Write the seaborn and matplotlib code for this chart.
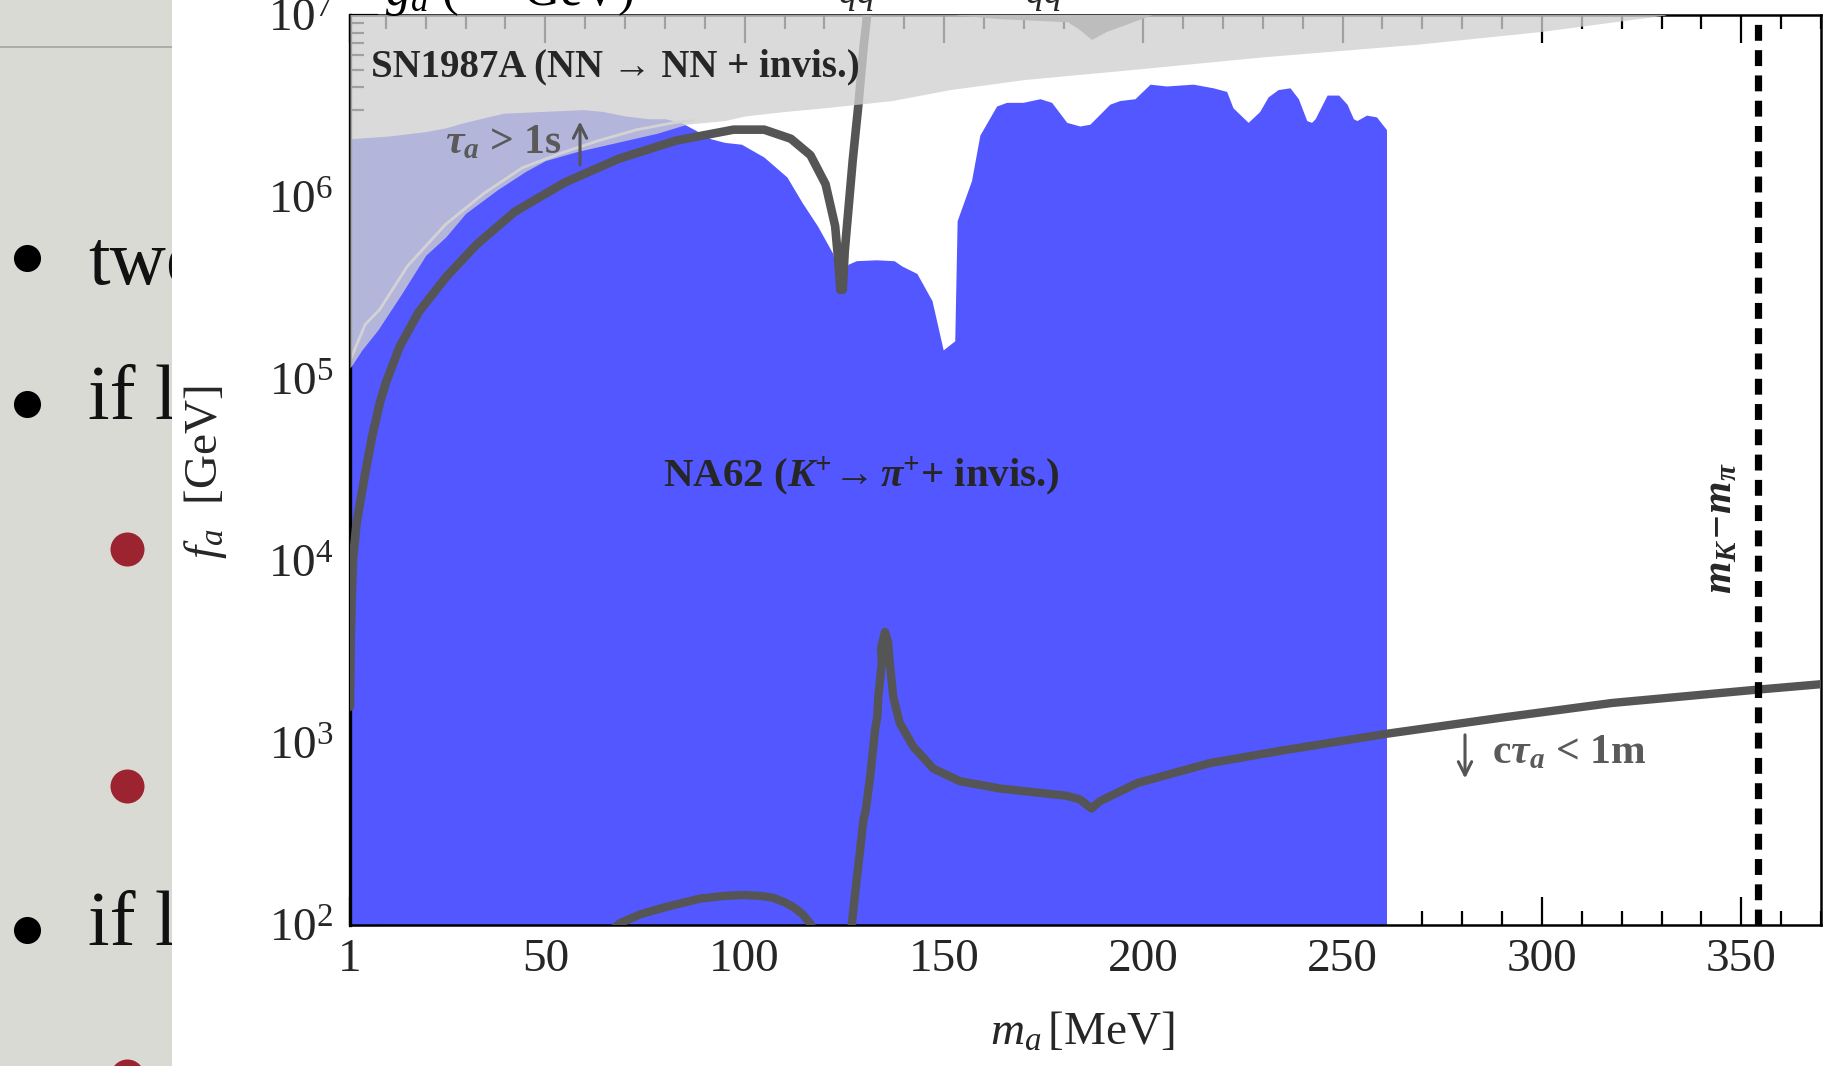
import matplotlib
matplotlib.use("Agg")
import matplotlib.pyplot as plt
import numpy as np
import seaborn as sns
from matplotlib.ticker import FixedLocator, LogLocator, NullFormatter

# ---------------------------------------------------------------- data
# NA62 (K+ -> pi+ + invisible) excluded region: upper edge, log10(f_a / GeV)
na62_ma = [1, 10.6, 20.2, 25, 29.8, 39.4, 49, 59.5, 64.4, 70.1, 76, 80, 84, 87.4,
           91.5, 95, 99.2, 104.8, 110.6, 114.4, 118.3, 122.1, 123.3, 124.3, 125.3,
           125.9, 128, 133, 137.5, 139.5, 143.2, 147, 149.8, 152.7, 153.3, 156.9,
           159, 163.2, 165.7, 169.8, 174.1, 177, 180.8, 184.1, 186.6, 191.6, 194.1,
           197.9, 201.7, 205.8, 212.5, 217.5, 220.9, 222.5, 226.3, 229.2, 231.3,
           233.8, 236.8, 238.9, 241, 242.2, 243.1, 246.1, 249, 251.1, 252.7, 253.6,
           256, 258.5, 261]
na62_logfa = [6.32, 6.335, 6.36, 6.38, 6.41, 6.46, 6.47, 6.48, 6.47, 6.445, 6.43,
              6.43, 6.41, 6.37, 6.32, 6.30, 6.29, 6.22, 6.11, 5.97, 5.84, 5.69, 5.56,
              5.50, 5.56, 5.63, 5.65, 5.655, 5.65, 5.62, 5.58, 5.43, 5.16, 5.21, 5.87,
              6.09, 6.34, 6.50, 6.52, 6.52, 6.54, 6.52, 6.41, 6.39, 6.40, 6.51, 6.53,
              6.54, 6.62, 6.61, 6.62, 6.60, 6.58, 6.49, 6.41, 6.47, 6.55, 6.59, 6.60,
              6.54, 6.42, 6.41, 6.43, 6.56, 6.56, 6.51, 6.43, 6.42, 6.45, 6.44, 6.37]

# SN1987A (NN -> NN + invisible) excluded region: lower edge
sn_ma = [1, 4, 8, 14, 20, 25, 30, 38, 45, 50, 58, 68, 78, 85.5, 95, 100, 110, 120,
         137, 151.5, 170, 197, 230, 269, 300, 331]
sn_logfa = [5.06, 5.16, 5.27, 5.47, 5.68, 5.78, 5.91, 6.04, 6.14, 6.20, 6.25, 6.30,
            6.35, 6.40, 6.42, 6.445, 6.47, 6.49, 6.53, 6.59, 6.645, 6.70, 6.77, 6.84,
            6.91, 7.0]

# thin inner edge of the SN1987A band
sn_edge_ma = [1, 4.8, 8.4, 15.4, 25, 34.6, 44.2, 53.8, 63.4, 73, 82.6, 87]
sn_edge_logfa = [5.10, 5.30, 5.38, 5.62, 5.85, 6.02, 6.16, 6.24, 6.31, 6.37, 6.41, 6.42]

# darker SN1987A notch near the top
notch_ma = [153, 164, 181, 184, 187, 190.8, 197.4, 202]
notch_logfa = [7.0, 6.98, 6.963, 6.92, 6.866, 6.91, 6.963, 7.0]

# tau_a = 1 s contour
tau_ma = [1.0, 1.2, 1.5, 1.8, 2.6, 3.6, 4.8, 6.5, 8.5, 10.0, 13.5, 18.3, 25.1, 32.8,
          42.4, 54.9, 68.4, 82.8, 97.2, 104.9, 111.6, 116.5, 120.3, 122.7, 123.6,
          124.0, 124.6, 125.1, 127.1, 128.5, 129.9, 131.0]
tau_logfa = [3.2, 3.6, 3.85, 4.02, 4.2, 4.33, 4.48, 4.68, 4.87, 4.98, 5.18, 5.37,
             5.56, 5.74, 5.92, 6.08, 6.21, 6.31, 6.37, 6.37, 6.32, 6.23, 6.07, 5.84,
             5.62, 5.49, 5.49, 5.70, 6.20, 6.50, 6.84, 7.05]

# c tau_a = 1 m contour (two branches)
ctau_lo_ma = [65.5, 68.7, 74, 80.4, 88.8, 95, 99.6, 104, 107.1, 110, 112.1, 114.5,
              116.4, 117.5]
ctau_lo_logfa = [1.95, 2.01, 2.06, 2.10, 2.145, 2.16, 2.165, 2.16, 2.15, 2.125, 2.10,
                 2.06, 2.01, 1.96]
ctau_hi_ma = [126.5, 126.8, 128.1, 129.0, 129.8, 130.3, 131.4, 132.7, 133.3, 133.5,
              134.4, 134.2, 135.2, 136.0, 136.4, 137.3, 138.9, 142.3, 147.3, 154, 164,
              172.4, 180.8, 184.1, 187.0, 189.1, 198.5, 216.8, 235.2, 260.8, 290.1,
              317.6, 352.4, 371]
ctau_hi_logfa = [1.9, 1.99, 2.25, 2.42, 2.58, 2.62, 2.80, 3.07, 3.15, 3.25, 3.44, 3.52,
                 3.61, 3.55, 3.44, 3.25, 3.11, 2.98, 2.86, 2.79, 2.75, 2.73, 2.71, 2.69,
                 2.64, 2.68, 2.78, 2.89, 2.96, 3.05, 3.14, 3.22, 3.29, 3.325]

m_kaon_minus_m_pion = 354.1
x_major_ticks = [1, 50, 100, 150, 200, 250, 300, 350]

# ---------------------------------------------------------------- style
sns.set_theme(style="white")
plt.rcParams["font.family"] = ["Liberation Serif", "DejaVu Serif"]
plt.rcParams["mathtext.fontset"] = "custom"
plt.rcParams["mathtext.rm"] = "Liberation Serif"
plt.rcParams["mathtext.it"] = "Liberation Serif:italic"
plt.rcParams["mathtext.bf"] = "Liberation Serif:italic:bold"

W, H = 1845, 1066
fig = plt.figure(figsize=(W / 100, H / 100), dpi=100, facecolor="white")

# ---------------------------------------------------------------- slide strip on the left
pan = fig.add_axes([0, 0, 172 / W, 1])
pan.set_xlim(0, 172)
pan.set_ylim(H, 0)
pan.set_facecolor("#d9dad4")
pan.set_xticks([])
pan.set_yticks([])
for s in pan.spines.values():
    s.set_visible(False)
pan.plot([0, 172], [47, 47], color="#a5a6a2", lw=1.2)
for y, txt in [(284, "two"), (419, "if l"), (945, "if l")]:
    pan.text(88, y, txt, fontsize=56, va="baseline", ha="left", color="#111111",
             clip_on=True)
pan.scatter([27, 27, 27], [258, 404, 930], s=380, color="black", lw=0)
pan.scatter([127, 127, 127], [549, 786, 1076], s=600, color="#9c2430", lw=0,
            clip_on=True)

# cut-off heading fragments above the plot
fig.text(385 / W, 1 - 5 / H, r"$g_a$ ($\sim$ GeV)", fontsize=36, va="baseline",
         ha="left", color="black")
fig.text(838 / W, 1 - 3 / H, r"$qq$", fontsize=26, va="baseline", ha="left")
fig.text(1025 / W, 1 - 3 / H, r"$qq$", fontsize=26, va="baseline", ha="left")

# ---------------------------------------------------------------- main axes
ax = fig.add_axes([350 / W, 1 - 925 / H, 1471 / W, 910 / H])
ax.set_yscale("log")
ax.set_xlim(1, 370)
ax.set_ylim(1e2, 1e7)
ax.set_facecolor("white")

blue = "#5257ff"
dark = "#555555"

# NA62 region
ax.fill_between(na62_ma, 10.0, np.power(10.0, na62_logfa), color=blue, lw=0, zorder=1)

# thin inner edge of the SN band
sns.lineplot(x=sn_edge_ma, y=np.power(10.0, sn_edge_logfa), sort=False, estimator=None,
             color="#e2e2ea", lw=2.0, ax=ax, zorder=2)

# lifetime contours
sns.lineplot(x=tau_ma, y=np.power(10.0, tau_logfa), sort=False, estimator=None,
             color=dark, lw=6.2, ax=ax, zorder=3)
sns.lineplot(x=ctau_lo_ma, y=np.power(10.0, ctau_lo_logfa), sort=False,
             estimator=None, color=dark, lw=6.0, ax=ax, zorder=3)
sns.lineplot(x=ctau_hi_ma, y=np.power(10.0, ctau_hi_logfa), sort=False,
             estimator=None, color=dark, lw=6.0, ax=ax, zorder=3)

# SN1987A region (translucent)
ax.fill_between(sn_ma, np.power(10.0, sn_logfa), 1e8, color="#d0d0d0", alpha=0.78,
                lw=0, zorder=4)
ax.fill_between(notch_ma, np.power(10.0, notch_logfa), 1e8, color="#bdbdbd", lw=0,
                zorder=5)

# kinematic endpoint m_K - m_pi
ax.axvline(m_kaon_minus_m_pion, color="black", lw=5.2, dashes=(2.2, 1.3), zorder=6)

# labels
ax.text(6.3, 10 ** 6.714, "SN1987A (NN \u2192 NN + invis.)", fontsize=28,
        fontweight="bold", ha="left", va="center", zorder=10)
ax.text(79.4, 10 ** 4.464, r"NA62 ($\mathbf{K^{+}\!\rightarrow\pi^{+}}$+ invis.)",
        fontsize=29.5, fontweight="bold", ha="left", va="center", zorder=10)
ax.text(24.8, 10 ** 6.293, r"$\mathbf{\tau_a}$ > 1s", fontsize=30,
        fontweight="bold", color="#5a5a5a", ha="left", va="center", zorder=10)
ax.text(287.4, 10 ** 2.945, r"c$\mathbf{\tau_a}$ < 1m", fontsize=30,
        fontweight="bold", color="#5a5a5a", ha="left", va="center", zorder=10)
ax.text(344.9, 10 ** 4.18, r"$\mathbf{m_K\!-\!m_\pi}$", fontsize=30, rotation=90,
        ha="center", va="center", zorder=10)
ax.annotate("", xy=(58.7, 10 ** 6.43), xytext=(58.7, 10 ** 6.16),
            arrowprops=dict(arrowstyle="->", color=dark, lw=2.2, mutation_scale=24),
            zorder=10)
ax.annotate("", xy=(280.7, 10 ** 2.79), xytext=(280.7, 10 ** 3.06),
            arrowprops=dict(arrowstyle="->", color=dark, lw=2.2, mutation_scale=24),
            zorder=10)

# ticks and spines
ax.set_xticks(x_major_ticks)
ax.xaxis.set_minor_locator(FixedLocator(list(range(10, 371, 10))))
ax.yaxis.set_major_locator(LogLocator(base=10, numticks=10))
ax.yaxis.set_minor_locator(LogLocator(base=10, subs=np.arange(2, 10), numticks=20))
ax.yaxis.set_minor_formatter(NullFormatter())
ax.tick_params(which="both", direction="in", top=True, bottom=True, left=True,
               right=False, labeltop=False, color="black", width=1.6)
ax.tick_params(which="major", length=20, labelsize=34)
ax.tick_params(which="minor", length=10)
ax.tick_params(axis="y", which="major", pad=12)
ax.tick_params(axis="x", which="major", pad=10)
for s in ax.spines.values():
    s.set_color("black")
    s.set_linewidth(1.8)
ax.spines["left"].set_linewidth(2.4)

ax.set_xlabel(r"$m_a\,$[MeV]", fontsize=34)
ax.set_ylabel(r"$f_a$  [GeV]", fontsize=34)
ax.xaxis.set_label_coords(0.498, -0.095)
ax.yaxis.set_label_coords(-0.082, 0.498)

fig.savefig("out.png", dpi=100)
